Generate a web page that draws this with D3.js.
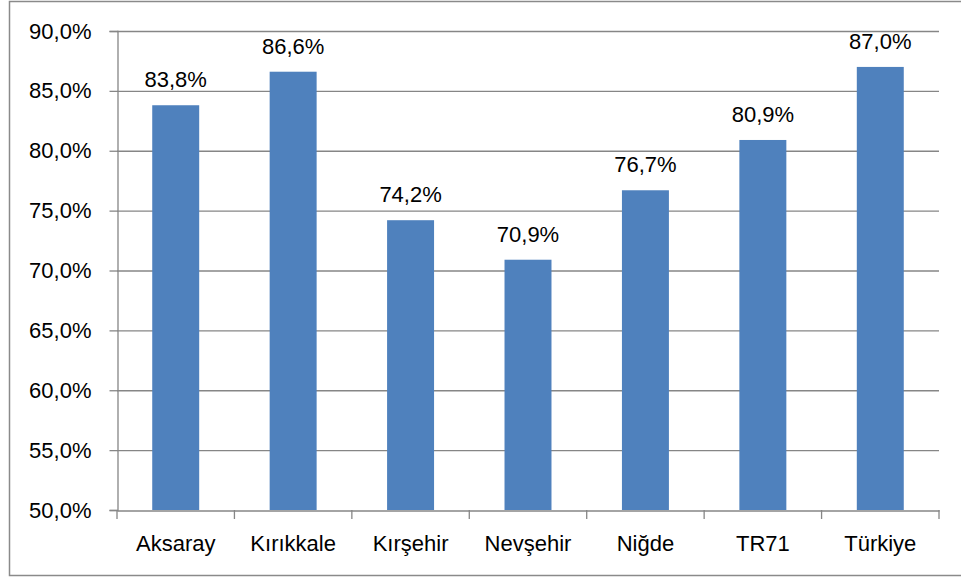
<!DOCTYPE html>
<html><head><meta charset="utf-8">
<script src="https://cdn.jsdelivr.net/npm/d3@7"></script>
<style>body{margin:0;background:#fff}svg{display:block}</style>
</head><body>
<svg id="c" width="961" height="578"></svg>
<script>
const categories = ["Aksaray","Kırıkkale","Kırşehir","Nevşehir","Niğde","TR71","Türkiye"];
const values = [83.8, 86.6, 74.2, 70.9, 76.7, 80.9, 87.0];
const yTicks = [50,55,60,65,70,75,80,85,90];

const svg = d3.select("#c");
const font = "'Liberation Sans', Arial, sans-serif";
const m = {left:117, right:939, top:31, bottom:510};

svg.append("rect").attr("x",9.5).attr("y",1.5).attr("width",960).attr("height",574)
  .attr("fill","#fff").attr("stroke","#8a8a8a").attr("stroke-width",1.5);

const x = d3.scaleBand().domain(categories).range([m.left,m.right]).paddingInner(0.6).paddingOuter(0.3);
const y = d3.scaleLinear().domain([50,90]).range([m.bottom,m.top]);
const fmt = v => d3.format(".1f")(v).replace(".",",") + "%";

// gridlines
svg.append("g").selectAll("line").data(yTicks.filter(t=>t>50)).join("line")
  .attr("x1",m.left).attr("x2",m.right).attr("y1",d=>y(d)+0.5).attr("y2",d=>y(d)+0.5)
  .attr("stroke","#868686").attr("stroke-width",1.3);

// y axis
const ya = svg.append("g").attr("transform",`translate(${m.left+0.5},0)`)
  .call(d3.axisLeft(y).tickValues(yTicks).tickFormat(fmt).tickSize(8).tickPadding(18));
ya.select(".domain").attr("stroke","#868686").attr("stroke-width",1.3);
ya.selectAll(".tick line").attr("stroke","#868686").attr("stroke-width",1.3);
ya.selectAll(".tick text").attr("font-family",font).attr("font-size",22).attr("fill","#000");

// x axis
const xa = svg.append("g").attr("transform",`translate(0,${m.bottom+0.5})`)
  .call(d3.axisBottom(x).tickSize(0).tickPadding(25));
xa.select(".domain").attr("stroke","#868686").attr("stroke-width",1.3);
xa.selectAll(".tick text").attr("font-family",font).attr("font-size",22).attr("fill","#000");
// category boundary ticks
const step = x.step();
const bounds = d3.range(categories.length+1).map(i => m.left + i*step);
svg.append("g").selectAll("line").data(bounds).join("line")
  .attr("x1",d=>d).attr("x2",d=>d).attr("y1",m.bottom).attr("y2",m.bottom+9)
  .attr("stroke","#868686").attr("stroke-width",1.3);

// bars
svg.append("g").selectAll("rect").data(values).join("rect")
  .attr("x",(d,i)=>x(categories[i])).attr("width",x.bandwidth())
  .attr("y",d=>y(d)).attr("height",d=>y(50)-y(d))
  .attr("fill","#4F81BD");

// labels
svg.append("g").selectAll("text").data(values).join("text")
  .attr("x",(d,i)=>x(categories[i])+x.bandwidth()/2).attr("y",d=>y(d)-18)
  .attr("text-anchor","middle").attr("font-family",font).attr("font-size",22).attr("fill","#000")
  .text(fmt);
</script>
</body></html>
